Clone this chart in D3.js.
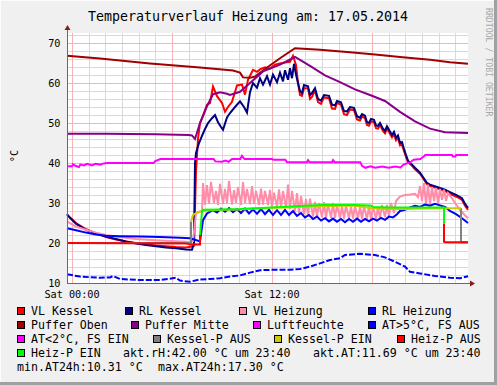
<!DOCTYPE html>
<html><head><meta charset="utf-8">
<script src="https://cdn.jsdelivr.net/npm/d3@7/dist/d3.min.js"></script>
<style>body{margin:0;background:#f0f0f0}svg{display:block}</style>
</head><body>
<svg id="c" width="497" height="385"></svg>
<script>
// ---------- DATA (time in hours relative to Sat 00:00, value in °C / %) ----------
const title = "Temperaturverlauf Heizung am: 17.05.2014";
const unitLabel = "°C";
const watermark = "RRDTOOL / TOBI OETIKER";
const yTickValues = [10, 20, 30, 40, 50, 60, 70];
const xTickHours = [0, 12];
const xTickLabels = ["Sat 00:00", "Sat 12:00"];
const timeRange = [-0.3, 23.76];
const valueRange = [10, 72.5];

const vlKessel = [[-0.3,27.0],[-0.12,26.4],[0.24,25.0],[0.78,23.6],[1.44,22.4],[2.04,21.5],[2.64,20.9],[3.24,20.4],[3.84,20.0],[4.44,19.7],[5.04,19.4],[5.64,19.2],[6.24,19.0],[6.84,18.9],[7.2,19.1],[7.32,19.3],[7.44,38.0],[7.56,46.0],[7.68,50.0],[7.86,51.8],[8.1,54.6],[8.28,55.0],[8.46,59.1],[8.7,56.7],[9.0,55.0],[9.18,52.8],[9.36,54.0],[9.6,55.3],[9.9,59.4],[10.2,59.6],[10.38,57.1],[10.56,60.8],[10.86,63.3],[11.1,62.8],[11.28,63.4],[11.58,63.9],[11.88,63.6],[12.18,64.6],[12.48,64.9],[12.78,65.1],[13.08,65.3],[13.26,66.8],[13.44,64.5],[13.56,60.0],[13.68,57.0],[13.8,56.8],[13.92,58.7],[14.16,58.7],[14.28,56.0],[14.4,56.5],[14.58,58.2],[14.76,55.2],[14.94,54.8],[15.12,56.4],[15.42,56.2],[15.6,53.6],[15.78,53.5],[15.9,55.0],[16.14,54.6],[16.32,52.2],[16.5,52.0],[16.68,53.4],[16.92,53.2],[17.1,50.9],[17.28,50.6],[17.4,51.6],[17.58,51.2],[17.7,49.5],[17.82,49.3],[17.94,50.4],[18.12,50.2],[18.24,48.7],[18.36,48.6],[18.48,49.5],[18.66,48.0],[18.78,47.4],[18.9,48.6],[19.08,47.3],[19.2,46.4],[19.32,47.2],[19.44,45.7],[19.56,46.3],[19.68,44.4],[19.8,44.6],[19.92,43.0],[20.04,41.5],[20.16,40.2],[20.4,39.3],[20.58,38.4],[20.88,37.3],[21.06,36.2],[21.3,34.7],[21.48,34.3],[21.9,33.7],[22.38,33.0],[22.68,32.3],[23.1,31.5],[23.4,30.8],[23.58,29.3],[23.76,28.3]];

const rlKessel = [[-0.3,27.2],[-0.12,26.3],[0.24,24.8],[0.78,23.4],[1.44,22.4],[2.04,21.6],[2.64,21.0],[3.24,20.4],[3.84,19.9],[4.44,19.5],[5.04,19.2],[5.64,18.9],[6.24,18.7],[6.84,18.4],[7.2,18.3],[7.32,20.0],[7.38,40.0],[7.44,42.5],[7.62,45.0],[7.8,46.8],[7.98,48.5],[8.16,50.0],[8.4,51.2],[8.58,52.0],[8.76,50.2],[8.94,49.0],[9.06,48.3],[9.3,51.4],[9.48,52.5],[9.78,54.0],[10.08,55.4],[10.32,54.0],[10.5,52.6],[10.68,57.7],[10.86,60.0],[11.1,58.8],[11.28,61.2],[11.46,59.6],[11.7,61.7],[11.88,59.6],[12.06,62.1],[12.3,60.2],[12.48,62.6],[12.66,60.4],[12.78,63.2],[12.96,60.8],[13.08,63.7],[13.2,61.2],[13.32,64.8],[13.44,62.1],[13.56,60.0],[13.68,58.0],[13.8,57.5],[13.92,59.5],[14.16,59.2],[14.28,57.0],[14.4,57.5],[14.58,58.7],[14.76,56.0],[14.94,55.6],[15.12,57.0],[15.42,56.8],[15.6,54.6],[15.78,54.4],[15.9,55.5],[16.14,55.2],[16.32,53.0],[16.5,52.9],[16.68,54.0],[16.92,53.8],[17.1,51.7],[17.28,51.3],[17.4,52.2],[17.58,51.8],[17.7,50.2],[17.82,50.0],[17.94,51.0],[18.12,50.8],[18.24,49.4],[18.36,49.3],[18.48,50.0],[18.66,48.6],[18.78,48.0],[18.9,49.2],[19.08,47.9],[19.2,47.0],[19.32,47.8],[19.44,46.3],[19.56,46.9],[19.68,45.0],[19.8,45.2],[19.92,43.5],[20.04,42.0],[20.16,40.6],[20.4,39.6],[20.58,38.8],[20.88,37.6],[21.06,36.5],[21.3,35.0],[21.48,34.6],[21.9,34.0],[22.38,33.3],[22.68,32.7],[23.1,31.9],[23.4,31.2],[23.58,29.8],[23.76,28.8]];

const vlHeizung = [[-0.3,25.4],[0.24,24.1],[0.84,23.3],[1.44,22.6],[2.04,22.0],[2.64,21.6],[3.84,21.0],[5.04,20.7],[6.84,20.3],[7.08,20.2],[7.26,20.5],[7.44,27.4],[7.62,27.8],[7.8,28.0],[7.86,35.0],[7.98,29.5],[8.1,34.5],[8.22,29.8],[8.34,35.3],[8.52,30.0],[8.64,33.0],[8.76,29.5],[8.88,34.8],[9.06,29.8],[9.18,33.5],[9.3,30.0],[9.42,35.5],[9.6,29.6],[9.72,33.2],[9.84,30.0],[9.96,34.0],[10.14,29.5],[10.26,35.2],[10.38,30.0],[10.5,33.5],[10.68,29.7],[10.8,34.2],[10.92,29.8],[11.04,33.0],[11.22,29.5],[11.34,33.6],[11.46,29.6],[11.58,33.0],[11.76,29.5],[11.88,33.3],[12.0,29.0],[12.12,32.6],[12.3,29.0],[12.42,33.4],[12.54,28.8],[12.66,33.0],[12.84,28.8],[12.96,34.6],[13.08,28.5],[13.2,33.0],[13.38,28.0],[13.5,32.5],[13.62,27.5],[13.74,31.7],[13.92,27.2],[14.04,31.0],[14.16,26.8],[14.28,31.1],[14.46,26.6],[14.58,30.3],[14.7,26.5],[14.82,30.0],[15.0,26.4],[15.12,30.2],[15.24,26.3],[15.36,29.8],[15.54,26.3],[15.66,30.0],[15.78,26.2],[15.9,29.5],[16.08,26.2],[16.2,29.3],[16.32,26.1],[16.44,29.4],[16.62,26.2],[16.74,29.1],[16.86,26.1],[16.98,29.2],[17.16,26.2],[17.28,29.0],[17.4,26.0],[17.52,29.2],[17.7,26.0],[17.82,29.3],[17.94,25.9],[18.06,29.2],[18.24,26.0],[18.36,29.0],[18.48,26.2],[18.6,29.5],[18.78,26.5],[18.9,29.5],[19.02,26.8],[19.14,30.0],[19.32,27.5],[19.44,30.5],[19.68,31.6],[19.98,32.0],[20.28,32.1],[20.58,32.3],[20.76,31.5],[20.88,34.2],[21.0,30.5],[21.12,35.0],[21.24,29.5],[21.36,34.6],[21.48,29.5],[21.6,34.0],[21.72,30.5],[21.84,33.8],[21.96,30.0],[22.08,33.5],[22.2,30.8],[22.32,33.3],[22.44,30.5],[22.56,32.5],[22.8,31.2],[22.98,30.0],[23.28,28.3],[23.52,27.2],[23.76,26.2]];

const rlHeizung = [[-0.3,23.7],[0.24,23.2],[0.84,22.6],[1.44,22.1],[2.04,21.8],[2.88,21.7],[4.08,21.6],[5.28,21.5],[6.48,21.3],[7.08,21.2],[7.38,20.8],[7.68,20.4],[7.86,25.7],[8.1,27.4],[8.46,28.2],[8.7,27.6],[8.94,28.6],[9.18,27.8],[9.42,28.7],[9.66,27.7],[9.9,28.5],[10.14,27.5],[10.38,28.6],[10.62,27.4],[10.86,28.4],[11.1,27.3],[11.34,28.5],[11.58,27.2],[11.82,28.3],[12.06,27.0],[12.3,28.2],[12.54,27.0],[12.78,28.3],[13.02,27.0],[13.26,28.0],[13.5,26.8],[13.74,27.5],[13.98,26.4],[14.22,27.0],[14.46,26.0],[14.7,26.6],[14.94,25.6],[15.18,26.2],[15.42,25.4],[15.66,26.1],[15.9,25.3],[16.14,26.0],[16.38,25.2],[16.62,26.0],[16.86,25.3],[17.1,26.1],[17.34,25.3],[17.58,26.0],[17.82,25.4],[18.06,26.1],[18.3,25.6],[18.54,26.3],[18.78,25.8],[19.02,26.6],[19.26,26.4],[19.5,27.2],[19.68,28.0],[19.98,28.3],[20.28,28.9],[20.58,29.3],[20.88,29.0],[21.18,29.6],[21.48,29.3],[21.78,29.8],[22.08,29.4],[22.38,29.0],[22.68,28.0],[23.04,27.2],[23.4,26.2],[23.76,25.0]];

const pufferOben = [[-0.3,66.8],[1.68,66.1],[4.68,64.9],[7.68,63.9],[9.66,63.1],[10.08,62.6],[10.26,61.4],[10.68,61.3],[10.98,61.6],[11.58,63.5],[12.48,66.2],[13.38,68.7],[14.88,68.3],[16.68,67.7],[18.18,67.1],[19.68,66.5],[21.48,65.8],[22.68,65.2],[23.76,64.8]];

const pufferMitte = [[-0.3,47.3],[2.0,47.3],[5.0,47.2],[7.0,47.0],[7.2,46.9],[7.38,46.0],[7.68,50.0],[8.1,54.2],[8.46,57.2],[8.88,57.7],[9.3,57.3],[9.48,57.0],[10.08,57.8],[10.68,60.0],[11.46,62.9],[12.48,64.6],[13.38,66.5],[14.28,64.3],[15.18,61.9],[16.08,60.2],[16.98,58.4],[17.88,57.0],[18.78,55.5],[19.68,52.8],[20.58,50.4],[21.48,48.6],[22.38,47.7],[23.76,47.5]];

const luftfeuchte = [[-0.3,39.2],[0.0,39.2],[0.06,39.7],[0.2,39.3],[0.42,39.0],[0.5,39.6],[0.72,39.4],[0.9,39.8],[1.2,39.4],[1.4,39.8],[1.7,39.6],[1.9,39.9],[2.1,40.0],[4.9,40.0],[5.0,40.5],[5.3,41.0],[8.5,41.0],[8.6,40.4],[9.0,40.3],[9.2,40.6],[9.4,40.3],[9.6,41.0],[10.1,41.0],[10.2,41.8],[10.35,41.0],[12.0,41.0],[12.1,40.8],[12.8,40.8],[12.9,40.2],[14.1,40.2],[14.16,40.7],[14.25,40.2],[15.6,40.2],[15.66,40.7],[15.75,40.2],[17.3,40.2],[17.4,39.3],[17.6,38.8],[17.9,39.2],[18.2,38.8],[18.6,39.1],[19.0,38.8],[19.4,39.1],[19.7,38.9],[19.9,39.6],[20.3,40.2],[20.5,40.8],[20.9,41.0],[21.1,41.6],[21.2,42.0],[22.8,42.0],[22.85,41.6],[23.0,41.6],[23.05,42.0],[23.76,42.0]];

const aussenTemp = [[-0.3,12.2],[0.48,11.6],[1.68,11.3],[2.28,11.4],[2.46,11.75],[2.88,11.0],[4.08,10.75],[5.28,10.75],[6.24,11.3],[6.48,10.6],[7.08,10.31],[7.68,10.9],[8.28,11.0],[8.88,11.2],[9.48,11.6],[10.08,11.9],[10.68,12.6],[11.28,13.2],[12.06,13.3],[13.08,13.3],[13.68,13.5],[14.28,14.1],[14.88,14.9],[15.48,15.75],[16.08,16.2],[16.38,17.0],[17.28,17.3],[18.18,17.0],[18.78,16.4],[19.38,15.3],[19.98,14.1],[20.28,12.8],[20.88,12.4],[21.78,11.75],[22.68,11.3],[23.28,11.2],[23.76,11.69]];
const aussenTempBelow2 = [];

const kesselPAus = [[-0.3,20.0],[7.14,20.0],[7.14,25.3],null,[23.34,28.7],[23.34,20.2],[23.76,20.2]];
const kesselPEin = [[7.14,25.3],[7.26,27.0],[7.5,27.6],[7.68,27.8],[8.1,28.1],[9.0,28.3],[10.0,28.4],[11.0,28.6],[12.0,28.8],[13.0,28.9],[14.0,29.1],[15.0,29.2],[16.0,29.3],[17.0,29.3],[18.0,28.7],[19.0,28.5],[20.0,28.5],[21.0,28.6],[22.0,28.7],[23.0,28.7],[23.34,28.7]];
const heizPAus = [[-0.3,20.0],[6.8,19.9],[7.1,19.6],[7.68,19.6],[7.68,22.0],null,[22.32,24.9],[22.32,20.3],[22.44,20.2],[23.76,20.2]];
const heizPEin = [[7.68,22.0],[7.8,27.9],[7.86,28.3],[9.0,28.4],[10.08,28.5],[11.0,28.7],[12.0,28.9],[13.68,29.25],[15.0,29.5],[16.0,29.5],[17.0,29.5],[17.9,29.4],[18.1,29.0],[19.0,28.9],[20.0,28.9],[21.0,28.9],[22.0,28.9],[22.32,28.9],[22.32,24.9]];

const legendRows = [
  [["VL Kessel","#ff0000"],["RL Kessel","#000080"],["VL Heizung","#ff8ca8"],["RL Heizung","#0000ff"]],
  [["Puffer Oben","#a00000"],["Puffer Mitte","#880088"],["Luftfeuchte","#ff00ff"],["AT>5°C, FS AUS","#0000ff"]],
  [["AT<2°C, FS EIN","#ff00ff"],["Kessel-P AUS","#808080"],["Kessel-P EIN","#cccc00"],["Heiz-P AUS","#ff0000"]],
  [["Heiz-P EIN","#00ff00"],["akt.rH:42.00 °C um 23:40",null],["akt.AT:11.69 °C um 23:40",null]],
  [["min.AT24h:10.31 °C",null],["max.AT24h:17.30 °C",null]]
];

// ---------- LAYOUT ----------
const W = 497, H = 385;
const plot = {left: 67, right: 468, top: 33, bottom: 283};
const legendX = [
  [17, 125, 239, 368],
  [17, 131, 253, 368],
  [17, 153, 274, 397],
  [17, 123, 313],
  [17, 158]
];
const legendBase = [314.5, 328.5, 342.5, 356.5, 370.5];
const mono = "'DejaVu Sans Mono', 'Liberation Mono', monospace";

const svg = d3.select("#c");
svg.append("rect").attr("width", W).attr("height", H).attr("fill", "#f0f0f0");
svg.append("rect").attr("x",0).attr("y",0).attr("width",W).attr("height",1).attr("fill","#fcfcfc");
svg.append("rect").attr("x",0).attr("y",0).attr("width",1).attr("height",H).attr("fill","#fcfcfc");
svg.append("rect").attr("x",W-3).attr("y",0).attr("width",3).attr("height",H).attr("fill","#a0a0a0");
svg.append("rect").attr("x",0).attr("y",H-3).attr("width",W).attr("height",3).attr("fill","#a0a0a0");

const x = d3.scaleLinear().domain(timeRange).range([plot.left, plot.right]);
const y = d3.scaleLinear().domain(valueRange).range([plot.bottom, plot.top]);

svg.append("rect").attr("x", plot.left).attr("y", plot.top)
  .attr("width", plot.right - plot.left).attr("height", plot.bottom - plot.top).attr("fill", "#ffffff");

// grid
const g = svg.append("g").attr("shape-rendering", "crispEdges");
const minorY = d3.range(12, 73, 2).filter(v => v % 10 !== 0);
const minorX = d3.range(0, 24).filter(h => h % 6 !== 0);
const majorX = d3.range(0, 24, 6);
g.selectAll(".my").data(minorY).join("line")
  .attr("x1", plot.left).attr("x2", plot.right)
  .attr("y1", d => Math.round(y(d)) + 0.5).attr("y2", d => Math.round(y(d)) + 0.5)
  .attr("stroke", "#d9d9d9");
g.selectAll(".mx").data(minorX).join("line")
  .attr("y1", plot.top).attr("y2", plot.bottom)
  .attr("x1", d => Math.round(x(d)) + 0.5).attr("x2", d => Math.round(x(d)) + 0.5)
  .attr("stroke", "#d9d9d9");
g.selectAll(".My").data(yTickValues).join("line")
  .attr("x1", plot.left).attr("x2", plot.right)
  .attr("y1", d => Math.round(y(d)) + 0.5).attr("y2", d => Math.round(y(d)) + 0.5)
  .attr("stroke", "#f4b4b4");
g.selectAll(".Mx").data(majorX).join("line")
  .attr("y1", plot.top).attr("y2", plot.bottom)
  .attr("x1", d => Math.round(x(d)) + 0.5).attr("x2", d => Math.round(x(d)) + 0.5)
  .attr("stroke", "#f4b4b4");

// series
const line = d3.line().defined(d => d !== null).x(d => x(d[0])).y(d => y(d[1]));
const seriesDefs = [
  {data: vlKessel, color: "#ff0000"},
  {data: rlKessel, color: "#000080"},
  {data: vlHeizung, color: "#ff8ca8"},
  {data: rlHeizung, color: "#0000ff"},
  {data: pufferOben, color: "#a00000"},
  {data: pufferMitte, color: "#880088"},
  {data: luftfeuchte, color: "#ff00ff"},
  {data: aussenTemp, color: "#0000ff", dash: "6,2"},
  {data: aussenTempBelow2, color: "#ff00ff", dash: "6,2"},
  {data: kesselPAus, color: "#808080"},
  {data: kesselPEin, color: "#cccc00"},
  {data: heizPAus, color: "#ff0000"},
  {data: heizPEin, color: "#00ff00"}
];
const lines = svg.append("g");
seriesDefs.forEach(s => {
  if (!s.data.length) return;
  lines.append("path").attr("d", line(s.data)).attr("fill", "none")
    .attr("stroke", s.color).attr("stroke-width", 2)
    .attr("stroke-linejoin", "miter").attr("stroke-dasharray", s.dash || null);
});

// axes
const ax = svg.append("g").attr("shape-rendering", "crispEdges");
ax.append("line").attr("x1", plot.left - 0.5).attr("x2", plot.right + 3).attr("y1", plot.bottom + 0.5).attr("y2", plot.bottom + 0.5).attr("stroke", "#6a6a6a");
ax.append("line").attr("x1", plot.left + 0.5).attr("x2", plot.left + 0.5).attr("y1", plot.bottom + 1).attr("y2", plot.top - 4).attr("stroke", "#6a6a6a");
svg.append("path").attr("d", `M${plot.right+2},${plot.bottom-2.5} L${plot.right+7},${plot.bottom+0.5} L${plot.right+2},${plot.bottom+3.5} Z`).attr("fill", "#8b1a1a");
svg.append("path").attr("d", `M${plot.left-2.5},${plot.top-3} L${plot.left+0.5},${plot.top-8} L${plot.left+3.5},${plot.top-3} Z`).attr("fill", "#8b1a1a");

// tick labels
svg.selectAll(".yl").data(yTickValues).join("text")
  .attr("x", 60.5).attr("y", d => y(d) + 3.8).attr("text-anchor", "end")
  .attr("font-family", mono).attr("font-size", "10.2px").attr("fill", "#000")
  .text(d => d);
svg.selectAll(".xl").data(xTickHours).join("text")
  .attr("x", d => x(d)).attr("y", 298).attr("text-anchor", "middle")
  .attr("font-family", mono).attr("font-size", "10.2px").attr("fill", "#000")
  .text((d, i) => xTickLabels[i]);

// title, unit, watermark
svg.append("text").attr("x", 248).attr("y", 21).attr("text-anchor", "middle")
  .attr("font-family", mono).attr("font-size", "13.3px").attr("fill", "#000").text(title);
svg.append("text").attr("transform", "translate(18,156) rotate(-90)").attr("text-anchor", "middle")
  .attr("font-family", mono).attr("font-size", "10.2px").attr("fill", "#000").text(unitLabel);
svg.append("text").attr("transform", "translate(485.5,8) rotate(90)").attr("text-anchor", "start")
  .attr("font-family", mono).attr("font-size", "8.2px").attr("fill", "#a8a8a8").text(watermark);

// legend
legendRows.forEach((row, r) => {
  row.forEach((item, i) => {
    const lx = legendX[r][i], base = legendBase[r];
    let tx = lx;
    if (item[1]) {
      svg.append("rect").attr("x", lx + 0.5).attr("y", base - 7.5).attr("width", 7).attr("height", 7)
        .attr("fill", item[1]).attr("stroke", "#000").attr("stroke-width", 1).attr("shape-rendering", "crispEdges");
      tx = lx + 14;
    }
    svg.append("text").attr("x", tx).attr("y", base)
      .attr("font-family", mono).attr("font-size", "11.6px").attr("fill", "#000").text(item[0]);
  });
});
</script>
</body></html>
